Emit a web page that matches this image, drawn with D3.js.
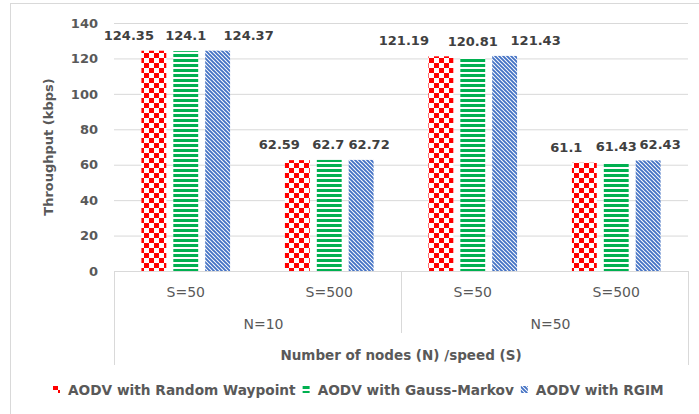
<!DOCTYPE html>
<html>
<head>
<meta charset="utf-8">
<script src="https://cdn.jsdelivr.net/npm/d3@7"></script>
<style>
	body { margin: 0; background: #fff; }
	text { font-family: "DejaVu Sans", Verdana, sans-serif; }
</style>
</head>
<body>
<div id="chart-area"></div>
<script>

// Data
var speeds = ["S=50", "S=500", "S=50", "S=500"];
var nodeGroups = ["N=10", "N=50"];
var seriesNames = ["AODV with Random Waypoint", "AODV with Gauss-Markov", "AODV with RGIM"];
var randomWaypoint = [124.35, 62.59, 121.19, 61.1];
var gaussMarkov = [124.1, 62.7, 120.81, 61.43];
var rgim = [124.37, 62.72, 121.43, 62.43];
var yTicks = [0, 20, 40, 60, 80, 100, 120, 140];

// manual label nudges (Excel moved the labels so they don't overlap)
var labelShift = [
	[-25, -18, -37, -18],
	[0, -1, 0, 0],
	[31, 8, 31, 12]
];

var width = 699,
	height = 414;

var margin = {top: 23, right: 11, bottom: 143, left: 114};

var svg = d3.select("#chart-area").append("svg")
	.attr("width", width)
	.attr("height", height);

// outer chart frame
svg.append("rect")
	.attr("x", 10.5)
	.attr("y", 3.5)
	.attr("width", 700)
	.attr("height", 430)
	.attr("fill", "none")
	.attr("stroke", "#d9d9d9");

// patterns
var defs = svg.append("defs");

var checker = defs.append("pattern")
	.attr("id", "pat0")
	.attr("patternUnits", "userSpaceOnUse")
	.attr("width", 10)
	.attr("height", 10);
checker.append("rect").attr("width", 10).attr("height", 10).attr("fill", "#fff");
checker.append("rect").attr("width", 5).attr("height", 5).attr("fill", "#ff0000");
checker.append("rect").attr("x", 5).attr("y", 5).attr("width", 5).attr("height", 5).attr("fill", "#ff0000");

var hstripe = defs.append("pattern")
	.attr("id", "pat1")
	.attr("patternUnits", "userSpaceOnUse")
	.attr("width", 10)
	.attr("height", 5);
hstripe.append("rect").attr("width", 10).attr("height", 5).attr("fill", "#fff");
hstripe.append("rect").attr("y", 1).attr("width", 10).attr("height", 3).attr("fill", "#00b050");

var dstripe = defs.append("pattern")
	.attr("id", "pat2")
	.attr("patternUnits", "userSpaceOnUse")
	.attr("width", 4)
	.attr("height", 4);
dstripe.append("rect").attr("width", 4).attr("height", 4).attr("fill", "#fff");
dstripe.append("path")
	.attr("d", "M-1,-1L5,5M-1,3L1,5M3,-1L5,1")
	.attr("stroke", "#4472c4")
	.attr("stroke-width", 1.9);

var chartW = width - margin.left - margin.right,
	chartH = height - margin.top - margin.bottom;

var g = svg.append("g")
	.attr("transform", "translate(" + margin.left + "," + margin.top + ")");

var x0 = d3.scaleBand()
	.domain(d3.range(speeds.length))
	.range([0, chartW]);

var x1 = d3.scaleBand()
	.domain(d3.range(seriesNames.length))
	.range([0, x0.bandwidth()])
	.paddingInner(0.22)
	.paddingOuter(0.86);

var y = d3.scaleLinear()
	.domain([0, 140])
	.range([chartH, 0]);

// gridlines + y tick labels
var yAxis = d3.axisLeft(y)
	.tickValues(yTicks)
	.tickSize(-chartW)
	.tickPadding(16);

var yAxisGroup = g.append("g")
	.attr("class", "y-axis axis")
	.call(yAxis);
yAxisGroup.select(".domain").remove();
yAxisGroup.selectAll("line").attr("stroke", "#d9d9d9");
yAxisGroup.selectAll("text")
	.attr("fill", "#595959")
	.style("font-size", "13px")
	.style("font-weight", "bold");

var allSeries = [randomWaypoint, gaussMarkov, rgim];

var rows = [];
allSeries.forEach(function(vals, s) {
	vals.forEach(function(v, i) {
		rows.push({s: s, i: i, v: v});
	});
});

g.selectAll(".bar")
	.data(rows)
	.enter()
	.append("rect")
	.attr("class", "bar")
	.attr("x", d => x0(d.i) + x1(d.s))
	.attr("y", d => y(d.v))
	.attr("width", x1.bandwidth())
	.attr("height", d => chartH - y(d.v))
	.attr("fill", d => "url(#pat" + d.s + ")");

g.selectAll(".bar-label")
	.data(rows)
	.enter()
	.append("text")
	.attr("class", "bar-label")
	.attr("x", d => x0(d.i) + x1(d.s) + x1.bandwidth() / 2 + labelShift[d.s][d.i])
	.attr("y", d => y(d.v) - 11)
	.attr("text-anchor", "middle")
	.attr("fill", "#404040")
	.style("font-size", "13px")
	.style("font-weight", "bold")
	.text(d => d.v);

// x axis line and multi-level category box
g.append("line")
	.attr("x1", 0).attr("x2", chartW)
	.attr("y1", chartH + 0.5).attr("y2", chartH + 0.5)
	.attr("stroke", "#d9d9d9");

[0, chartW].forEach(function(xp) {
	g.append("line")
		.attr("x1", xp + 0.5).attr("x2", xp + 0.5)
		.attr("y1", chartH).attr("y2", chartH + 94)
		.attr("stroke", "#d9d9d9");
});
g.append("line")
	.attr("x1", x0(2) + 0.5).attr("x2", x0(2) + 0.5)
	.attr("y1", chartH).attr("y2", chartH + 62)
	.attr("stroke", "#d9d9d9");

g.selectAll(".speed-label")
	.data(speeds)
	.enter()
	.append("text")
	.attr("class", "speed-label")
	.attr("x", (d, i) => x0(i) + x0.bandwidth() / 2)
	.attr("y", chartH + 26)
	.attr("text-anchor", "middle")
	.attr("fill", "#595959")
	.style("font-size", "14px")
	.text(d => d);

g.selectAll(".node-label")
	.data(nodeGroups)
	.enter()
	.append("text")
	.attr("class", "node-label")
	.attr("x", (d, i) => x0(i * 2) + x0.bandwidth() + 6)
	.attr("y", chartH + 58)
	.attr("text-anchor", "middle")
	.attr("fill", "#595959")
	.style("font-size", "14px")
	.text(d => d);

// axis titles
g.append("text")
	.attr("x", chartW / 2)
	.attr("y", chartH + 89)
	.attr("text-anchor", "middle")
	.attr("fill", "#595959")
	.style("font-size", "13.5px")
	.style("font-weight", "bold")
	.text("Number of nodes (N) /speed (S)");

svg.append("text")
	.attr("transform", "translate(53,147) rotate(-90)")
	.attr("text-anchor", "middle")
	.attr("fill", "#595959")
	.style("font-size", "13px")
	.style("font-weight", "bold")
	.text("Throughput (kbps)");

// legend
var legend = svg.append("g")
	.attr("transform", "translate(53,395)");
var lx = 0;
seriesNames.forEach(function(name, s) {
	legend.append("rect")
		.attr("x", lx)
		.attr("y", -9)
		.attr("width", 7)
		.attr("height", 7)
		.attr("fill", "url(#pat" + s + ")");
	var t = legend.append("text")
		.attr("x", lx + 15)
		.attr("y", 0)
		.attr("fill", "#595959")
		.style("font-size", "13.7px")
		.style("font-weight", "bold")
		.text(name);
	lx += 15 + t.node().getComputedTextLength() + 7;
});

</script>
</body>
</html>
